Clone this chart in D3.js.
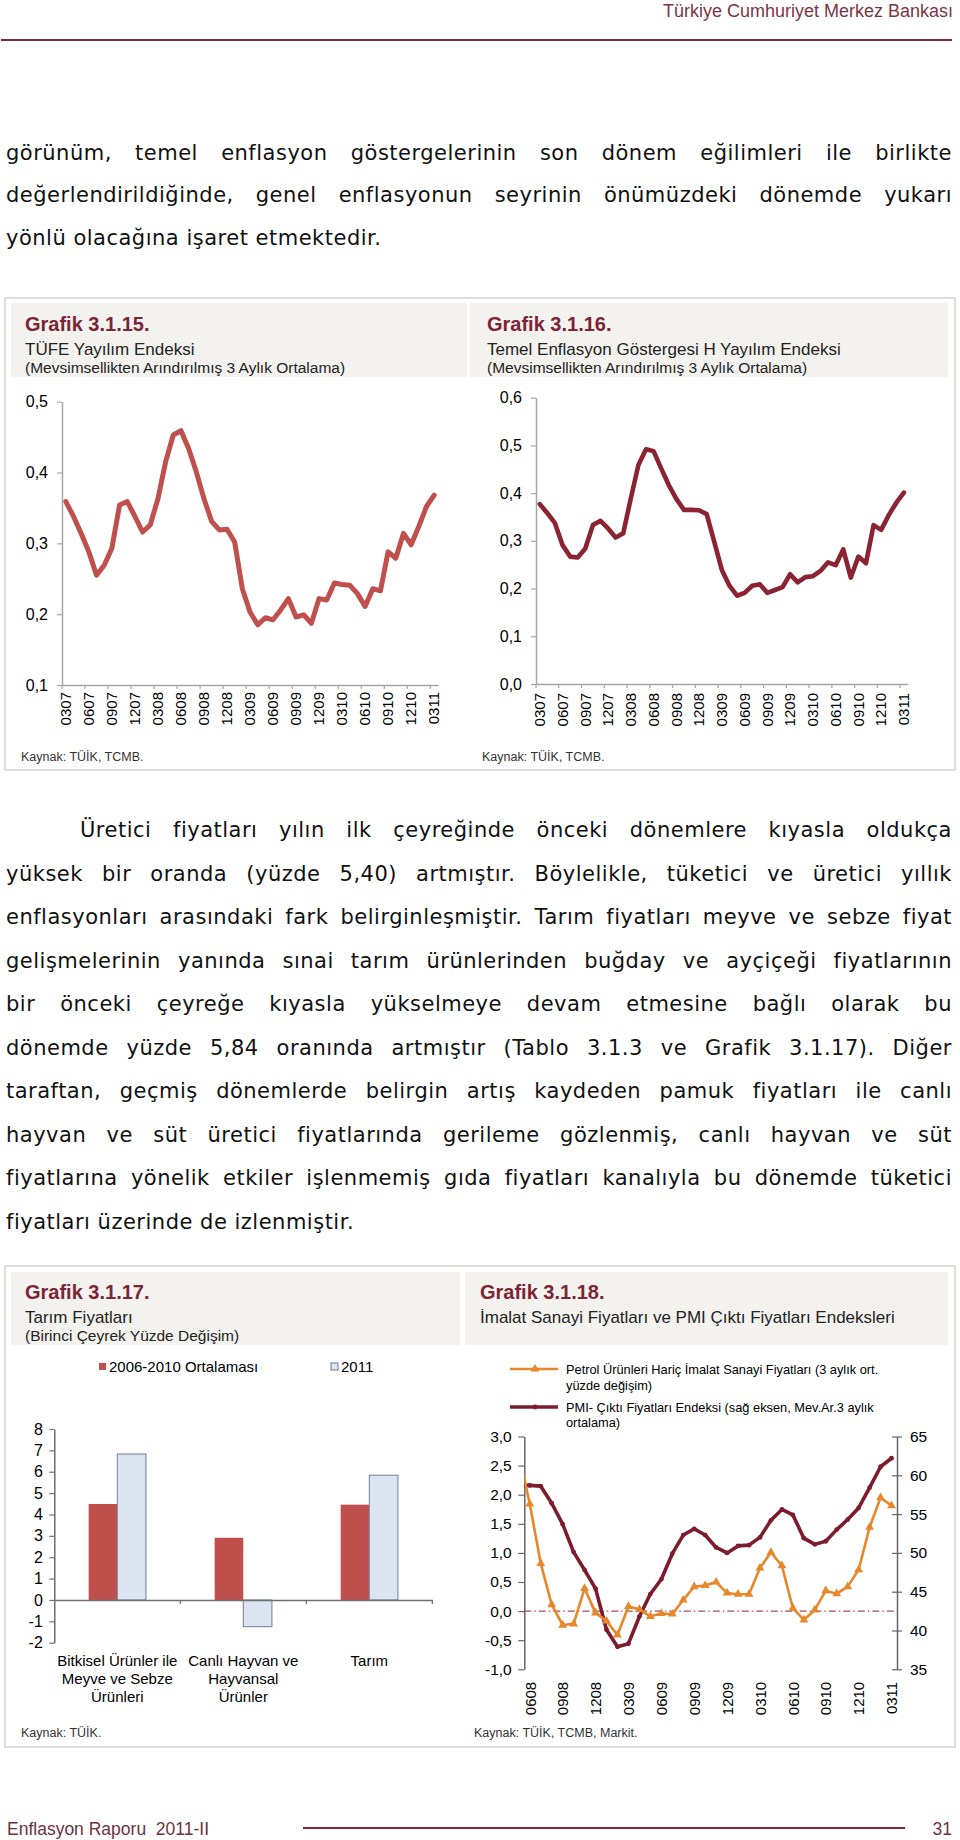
<!DOCTYPE html>
<html><head><meta charset="utf-8">
<script src="https://cdn.jsdelivr.net/npm/d3@7"></script>
<style>body{margin:0;background:#fff}</style>
</head><body>
<svg id="page" width="960" height="1840"></svg>
<script>
// ---------------- DATA ----------------
const months1 = ["0307","0407","0507","0607","0707","0807","0907","1007","1107","1207",
  "0108","0208","0308","0408","0508","0608","0708","0808","0908","1008","1108","1208",
  "0109","0209","0309","0409","0509","0609","0709","0809","0909","1009","1109","1209",
  "0110","0210","0310","0410","0510","0610","0710","0810","0910","1010","1110","1210",
  "0111","0211","0311"];
const tickLabels1 = ["0307","0607","0907","1207","0308","0608","0908","1208","0309","0609","0909","1209","0310","0610","0910","1210","0311"];
const tufeYayilim = [0.359,0.338,0.314,0.288,0.255,0.269,0.293,0.354,0.359,0.338,0.316,0.326,0.363,0.415,0.453,0.459,0.434,0.401,0.363,0.331,0.319,0.320,0.302,0.236,0.203,0.185,0.195,0.192,0.206,0.222,0.196,0.199,0.187,0.222,0.220,0.244,0.242,0.241,0.229,0.211,0.236,0.233,0.288,0.279,0.314,0.298,0.324,0.352,0.368];
const yTicks1 = [0.1,0.2,0.3,0.4,0.5];
const temelHYayilim = [0.377,0.358,0.337,0.291,0.267,0.265,0.284,0.333,0.342,0.326,0.307,0.316,0.389,0.459,0.492,0.488,0.452,0.417,0.388,0.365,0.365,0.364,0.356,0.298,0.239,0.206,0.185,0.191,0.206,0.209,0.191,0.197,0.203,0.230,0.213,0.224,0.226,0.237,0.255,0.249,0.282,0.223,0.267,0.253,0.333,0.323,0.354,0.380,0.401];
const yTicks2 = [0,0.1,0.2,0.3,0.4,0.5,0.6];

const barCategories = ["Bitkisel Ürünler ile Meyve ve Sebze Ürünleri","Canlı Hayvan ve Hayvansal Ürünler","Tarım"];
const barCategoryLines = [["Bitkisel Ürünler ile","Meyve ve Sebze","Ürünleri"],["Canlı Hayvan ve","Hayvansal","Ürünler"],["Tarım"]];
const barSeries = ["2006-2010 Ortalaması","2011"];
const ort2006_2010 = [4.49, 2.91, 4.46];
const yil2011 = [6.83, -1.25, 5.84];
const barTicks = [-2,-1,0,1,2,3,4,5,6,7,8];

const months4 = ["0508","0608","0708","0808","0908","1008","1108","1208",
  "0109","0209","0309","0409","0509","0609","0709","0809","0909","1009","1109","1209",
  "0110","0210","0310","0410","0510","0610","0710","0810","0910","1010","1110","1210",
  "0111","0211","0311"];
const tickLabels4 = ["0608","0908","1208","0309","0609","0909","1209","0310","0610","0910","1210","0311"];
const imalatFiyat = [2.70,1.84,0.82,0.11,-0.24,-0.22,0.39,-0.03,-0.17,-0.41,0.08,0.03,-0.09,-0.04,-0.05,0.19,0.42,0.44,0.50,0.31,0.29,0.29,0.74,1.01,0.78,0.05,-0.15,0.02,0.35,0.30,0.42,0.71,1.44,1.95,1.81];
const pmiCikti = [58.7,58.7,58.6,56.4,53.7,50.1,47.8,45.4,40.1,37.9,38.3,41.8,44.7,46.6,49.9,52.3,53.1,52.3,50.7,50.0,50.9,51.0,52.0,54.2,55.6,54.9,51.9,51.1,51.5,53.0,54.3,55.8,58.4,61.1,62.2];
const yTicks4L = [-1,-0.5,0,0.5,1,1.5,2,2.5,3];
const yTicks4R = [35,40,45,50,55,60,65];

const para1 = [
 "görünüm, temel enflasyon göstergelerinin son dönem eğilimleri ile birlikte",
 "değerlendirildiğinde, genel enflasyonun seyrinin önümüzdeki dönemde yukarı",
 "yönlü olacağına işaret etmektedir."];
const para2 = [
 "Üretici fiyatları yılın ilk çeyreğinde önceki dönemlere kıyasla oldukça",
 "yüksek bir oranda (yüzde 5,40) artmıştır. Böylelikle, tüketici ve üretici yıllık",
 "enflasyonları arasındaki fark belirginleşmiştir. Tarım fiyatları meyve ve sebze fiyat",
 "gelişmelerinin yanında sınai tarım ürünlerinden buğday ve ayçiçeği fiyatlarının",
 "bir önceki çeyreğe kıyasla yükselmeye devam etmesine bağlı olarak bu",
 "dönemde yüzde 5,84 oranında artmıştır (Tablo 3.1.3 ve Grafik 3.1.17). Diğer",
 "taraftan, geçmiş dönemlerde belirgin artış kaydeden pamuk fiyatları ile canlı",
 "hayvan ve süt üretici fiyatlarında gerileme gözlenmiş, canlı hayvan ve süt",
 "fiyatlarına yönelik etkiler işlenmemiş gıda fiyatları kanalıyla bu dönemde tüketici",
 "fiyatları üzerinde de izlenmiştir."];

// ---------------- DRAWING ----------------
const svg = d3.select('#page');
const FA = "'Liberation Sans', Arial, sans-serif";
const FB = "'DejaVu Sans', sans-serif";
const MAROON = '#7b2536';
const fmt1 = d => d.toFixed(1).replace('.', ',');

// page header
svg.append('text').attr('x',953).attr('y',17).attr('text-anchor','end')
  .attr('font-family',FA).attr('font-size',18).attr('fill','#7a3646')
  .text('Türkiye Cumhuriyet Merkez Bankası');
svg.append('line').attr('x1',1).attr('x2',952).attr('y1',40).attr('y2',40)
  .attr('stroke','#7d2a3a').attr('stroke-width',2);

// justified body text
function bodyLine(str, x0, x1, y, justify) {
  const style = s => s.attr('font-family',FB).attr('font-size',21).attr('letter-spacing','0.5px').attr('fill','#111');
  const t = svg.append('text').attr('y', y).call(style);
  if (!justify) { t.attr('x', x0).text(str); return; }
  const words = str.split(' ');
  const widths = words.map(w => {
    const tmp = svg.append('text').call(style).text(w);
    const wd = tmp.node().getComputedTextLength(); tmp.remove(); return wd;
  });
  const gap = (x1 - x0 - d3.sum(widths)) / (words.length - 1);
  if (gap < 3) { t.attr('x', x0).attr('textLength', x1 - x0).attr('lengthAdjust','spacing').text(str); return; }
  let x = x0;
  words.forEach((w, i) => {
    t.append('tspan').attr('x', x).text(i < words.length - 1 ? w + ' ' : w);
    x += widths[i] + gap;
  });
}
para1.forEach((l, i) => bodyLine(l, 6, 952, 159.5 + i * 42.8, i < para1.length - 1));
para2.forEach((l, i) => bodyLine(l, i === 0 ? 80 : 6, 952, 837 + i * 43.5, i < para2.length - 1));

// panel frames and header boxes
function frame(x, y, w, h) {
  svg.append('rect').attr('x',x).attr('y',y).attr('width',w).attr('height',h)
    .attr('fill','none').attr('stroke','#dedede').attr('stroke-width',2);
}
function hbox(x, y, w, h) {
  svg.append('rect').attr('x',x).attr('y',y).attr('width',w).attr('height',h).attr('fill','#f4f2ef');
}
frame(5, 298, 950, 472); hbox(11, 303, 456, 74); hbox(470, 303, 478, 74);
frame(5, 1266, 950, 481); hbox(11, 1272, 449, 73); hbox(465, 1272, 483, 73);

function titles(x, yBase, lines) {
  svg.append('text').attr('x',x).attr('y',yBase[0]).attr('font-family',FA).attr('font-weight','bold')
    .attr('font-size',20).attr('fill',MAROON).text(lines[0]);
  if (lines[1]) svg.append('text').attr('x',x).attr('y',yBase[1]).attr('font-family',FA)
    .attr('font-size',17).attr('fill','#222').text(lines[1]);
  if (lines[2]) svg.append('text').attr('x',x).attr('y',yBase[2]).attr('font-family',FA)
    .attr('font-size',15.5).attr('fill','#222').text(lines[2]);
}
function source(x, y, txt) {
  svg.append('text').attr('x',x).attr('y',y).attr('font-family',FA).attr('font-size',12.5)
    .attr('fill','#333').text(txt);
}
function styleAxis(a, col, fs) {
  a.attr('font-family', FA).attr('font-size', fs);
  a.select('.domain').attr('stroke', col).attr('stroke-width', 1.5);
  a.selectAll('.tick line').attr('stroke', col).attr('stroke-width', 1.2);
  a.selectAll('.tick text').attr('fill', '#000');
}

titles(25, [331, 355, 373], ['Grafik 3.1.15.', 'TÜFE Yayılım Endeksi', '(Mevsimsellikten Arındırılmış 3 Aylık Ortalama)']);
titles(487, [331, 355, 373], ['Grafik 3.1.16.', 'Temel Enflasyon Göstergesi H Yayılım Endeksi', '(Mevsimsellikten Arındırılmış 3 Aylık Ortalama)']);
titles(25, [1299, 1323, 1341], ['Grafik 3.1.17.', 'Tarım Fiyatları', '(Birinci Çeyrek Yüzde Değişim)']);
titles(480, [1299, 1323], ['Grafik 3.1.18.', 'İmalat Sanayi Fiyatları ve PMI Çıktı Fiyatları Endeksleri']);
source(21, 761, 'Kaynak: TÜİK, TCMB.');
source(482, 761, 'Kaynak: TÜİK, TCMB.');
source(21, 1737, 'Kaynak: TÜİK.');
source(474, 1737, 'Kaynak: TÜİK, TCMB, Markit.');

// line charts 1 & 2
function lineChart(o) {
  const g = svg.append('g');
  const x = d3.scaleBand().domain(o.months).range([o.x0, o.x1]);
  const y = d3.scaleLinear().domain(o.domain).range([o.yBot, o.yTop]);
  const ya = g.append('g').attr('transform', `translate(${o.x0},0)`)
    .call(d3.axisLeft(y).tickValues(o.yTicks).tickFormat(fmt1).tickSize(5).tickSizeOuter(0).tickPadding(9));
  styleAxis(ya, '#a6a6a6', 16);
  const xa = g.append('g').attr('transform', `translate(0,${o.yBot})`)
    .call(d3.axisBottom(x).tickValues(o.labels).tickSize(0).tickSizeOuter(0));
  styleAxis(xa, '#a6a6a6', 15);
  xa.selectAll('.tick text').attr('transform','rotate(-90)').attr('text-anchor','end')
    .attr('x', -o.labelGap).attr('y', 0).attr('dy','0.35em');
  g.append('g').selectAll('line').data(o.labels).join('line')
    .attr('x1', m => x(m)).attr('x2', m => x(m)).attr('y1', o.yBot).attr('y2', o.yBot + 4)
    .attr('stroke', '#a6a6a6').attr('stroke-width', 1.2);
  g.append('path').datum(o.values)
    .attr('d', d3.line().x((d, i) => x(o.months[i]) + x.bandwidth() / 2).y(d => y(d)))
    .attr('fill','none').attr('stroke', o.color).attr('stroke-width', o.width)
    .attr('stroke-linejoin','round').attr('stroke-linecap','round');
}
lineChart({months: months1, values: tufeYayilim, labels: tickLabels1, yTicks: yTicks1,
  x0: 62, x1: 438, yTop: 401.7, yBot: 685, domain: [0.1, 0.5], labelGap: 7, color: '#c0504d', width: 5});
lineChart({months: months1, values: temelHYayilim, labels: tickLabels1, yTicks: yTicks2,
  x0: 536, x1: 907.7, yTop: 397.7, yBot: 684, domain: [0, 0.6], labelGap: 9, color: '#8b2332', width: 4.6});

// bar chart
(function () {
  const g = svg.append('g');
  const x0 = d3.scaleBand().domain(barCategories).range([54.3, 432.3]);
  const x1 = d3.scaleBand().domain(barSeries).range([0, x0.bandwidth()]).paddingOuter(1.2);
  const y = d3.scaleLinear().domain([-2, 8]).range([1642.7, 1429]);
  const ya = g.append('g').attr('transform','translate(54.3,0)')
    .call(d3.axisLeft(y).tickValues(barTicks).tickFormat(d => String(d)).tickSize(5).tickSizeOuter(0).tickPadding(6.5));
  styleAxis(ya, '#6e6e6e', 16);
  const series = [ort2006_2010, yil2011];
  const fills = ['#c0504d', '#dbe5f1'];
  const strokes = ['none', '#6f7f96'];
  barSeries.forEach((s, si) => {
    g.append('g').selectAll('rect').data(series[si]).join('rect')
      .attr('x', (d, i) => x0(barCategories[i]) + x1(s))
      .attr('width', x1.bandwidth())
      .attr('y', d => Math.min(y(d), y(0)))
      .attr('height', d => Math.abs(y(d) - y(0)))
      .attr('fill', fills[si]).attr('stroke', strokes[si]).attr('stroke-width', 1);
  });
  const xa = g.append('g').attr('transform', `translate(0,${y(0)})`)
    .call(d3.axisBottom(x0).tickSize(0).tickSizeOuter(0).tickFormat(''));
  styleAxis(xa, '#6e6e6e', 15);
  g.append('g').selectAll('line').data(barCategories.slice(1).concat(['end'])).join('line')
    .attr('x1', c => c === 'end' ? x0.range()[1] : x0(c)).attr('x2', c => c === 'end' ? x0.range()[1] : x0(c))
    .attr('y1', y(0)).attr('y2', y(0) + 4).attr('stroke', '#6e6e6e').attr('stroke-width', 1.2);
  barCategoryLines.forEach((lines, i) => {
    const t = g.append('text').attr('font-family', FA).attr('font-size', 15).attr('text-anchor','middle').attr('fill','#000');
    lines.forEach((l, j) => t.append('tspan').attr('x', x0(barCategories[i]) + x0.bandwidth() / 2).attr('y', 1666 + j * 18).text(l));
  });
  // legend
  const lg = [{x: 99, s: barSeries[0]}, {x: 331, s: barSeries[1]}];
  lg.forEach((l, i) => {
    g.append('rect').attr('x', l.x).attr('y', 1363).attr('width', 7).attr('height', 7)
      .attr('fill', fills[i]).attr('stroke', i ? '#6f7f96' : 'none');
    g.append('text').attr('x', l.x + 10).attr('y', 1372).attr('font-family', FA).attr('font-size', 15).attr('fill','#000').text(l.s);
  });
})();

// dual axis line chart
(function () {
  const g = svg.append('g');
  const L = 524.3, R = 897, T = 1436.5, B = 1669.3;
  const xi = d3.scaleLinear().domain([-0.5, months4.length - 1.5]).range([L, R]);
  const yL = d3.scaleLinear().domain([-1, 3]).range([B, T]);
  const yR = d3.scaleLinear().domain([35, 65]).range([B, T]);
  const ax = g.append('g').attr('transform', `translate(${L},0)`)
    .call(d3.axisLeft(yL).tickValues(yTicks4L).tickFormat(fmt1).tickSize(6).tickSizeOuter(0).tickPadding(6.6));
  styleAxis(ax, '#666', 15.5);
  const ar = g.append('g').attr('transform', `translate(${R},0)`)
    .call(d3.axisRight(yR).tickValues(yTicks4R).tickSize(5).tickSizeOuter(0).tickPadding(8));
  styleAxis(ar, '#666', 15.5);
  ar.selectAll('.tick line').attr('x1', -5).attr('x2', 5);
  const xa = g.append('g').attr('transform', `translate(0,${B})`)
    .call(d3.axisBottom(xi).tickValues(tickLabels4.map(m => months4.indexOf(m) - 1))
      .tickFormat(v => months4[v + 1]).tickSize(0).tickSizeOuter(0));
  styleAxis(xa, '#666', 15);
  xa.select('.domain').remove();
  xa.selectAll('.tick text').attr('transform','rotate(-90)').attr('text-anchor','end')
    .attr('x', -12.5).attr('y', 0).attr('dy','0.35em');
  g.append('line').attr('x1', L).attr('x2', R).attr('y1', yL(0)).attr('y2', yL(0))
    .attr('stroke', '#8b2332').attr('stroke-width', 1).attr('stroke-dasharray', '7,3,1.5,3');
  g.append('clipPath').attr('id', 'c4').append('rect').attr('x', L).attr('y', 1400).attr('width', R - L).attr('height', 300);
  const pg = g.append('g').attr('clip-path', 'url(#c4)');
  const ORANGE = '#e8862a', DARK = '#7c1c2c';
  pg.append('path').datum(pmiCikti)
    .attr('d', d3.line().x((d, i) => xi(i - 1)).y(d => yR(d)))
    .attr('fill','none').attr('stroke', DARK).attr('stroke-width', 3.6).attr('stroke-linejoin','round');
  pg.append('g').selectAll('circle').data(pmiCikti).join('circle')
    .attr('cx', (d, i) => xi(i - 1)).attr('cy', d => yR(d)).attr('r', 2.4).attr('fill', DARK);
  pg.append('path').datum(imalatFiyat)
    .attr('d', d3.line().x((d, i) => xi(i - 1)).y(d => yL(d)))
    .attr('fill','none').attr('stroke', ORANGE).attr('stroke-width', 2.6).attr('stroke-linejoin','round');
  const tri = d3.symbol(d3.symbolTriangle).size(34);
  pg.append('g').selectAll('path').data(imalatFiyat).join('path')
    .attr('d', tri).attr('transform', (d, i) => `translate(${xi(i - 1)},${yL(d)})`).attr('fill', ORANGE);
  // legend
  g.append('line').attr('x1', 510).attr('x2', 558).attr('y1', 1369).attr('y2', 1369).attr('stroke', ORANGE).attr('stroke-width', 2.6);
  g.append('path').attr('d', tri).attr('transform', 'translate(535,1369)').attr('fill', ORANGE);
  g.append('line').attr('x1', 510).attr('x2', 558).attr('y1', 1407).attr('y2', 1407).attr('stroke', DARK).attr('stroke-width', 3.6);
  g.append('circle').attr('cx', 535).attr('cy', 1407).attr('r', 2.4).attr('fill', DARK);
  const legTxt = [['Petrol Ürünleri Hariç İmalat Sanayi Fiyatları (3 aylık ort.', 1374], ['yüzde değişim)', 1390],
                  ['PMI- Çıktı Fiyatları Endeksi (sağ eksen, Mev.Ar.3 aylık', 1411.5], ['ortalama)', 1427]];
  legTxt.forEach(l => g.append('text').attr('x', 566).attr('y', l[1]).attr('font-family', FA)
    .attr('font-size', 12.8).attr('fill', '#000').text(l[0]));
})();

// footer
svg.append('text').attr('x', 7).attr('y', 1835).attr('font-family', FA).attr('font-size', 17.5)
  .attr('fill', '#6b3341').style('white-space', 'pre').text('Enflasyon Raporu  2011-II');
svg.append('line').attr('x1', 303).attr('x2', 905).attr('y1', 1828).attr('y2', 1828).attr('stroke', '#7d2a3a').attr('stroke-width', 2);
svg.append('text').attr('x', 952).attr('y', 1835).attr('text-anchor', 'end').attr('font-family', FA).attr('font-size', 17.5)
  .attr('fill', '#6b3341').text('31');
</script>
</body></html>
